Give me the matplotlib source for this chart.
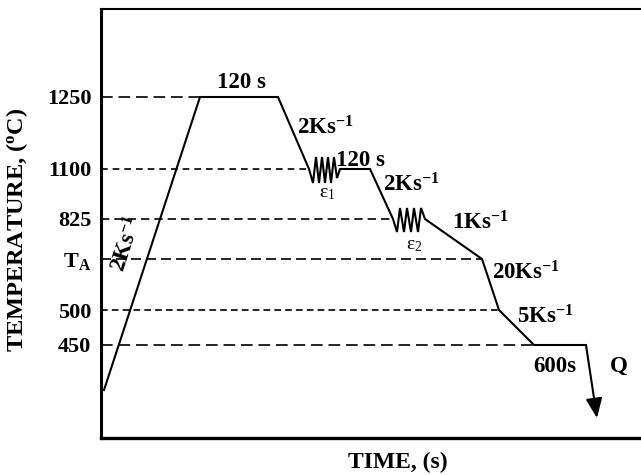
import matplotlib.pyplot as plt

plt.rcParams['font.family'] = ['Liberation Serif', 'DejaVu Serif']
plt.rcParams['font.weight'] = 'bold'
plt.rcParams['mathtext.fontset'] = 'custom'
plt.rcParams['mathtext.rm'] = 'Liberation Serif:bold'
plt.rcParams['mathtext.bf'] = 'Liberation Serif:bold'
plt.rcParams['mathtext.it'] = 'Liberation Serif:italic:bold'

# schematic levels (vertical position in the diagram) and their labels
level_pos = [341, 269, 219, 179, 128, 93]
level_lbl = ['1250', '1100', '825', r'T$_{\mathregular{A}}$', '500', '450']
level_end = [99, 208, 292, 381, 398, 433]   # where each dashed line meets the profile
level_dash = [(7, 3.5), (4, 3), (5, 3), (6, 3), (4, 2.5), (7, 3.5)]

# thermal profile (schematic time, level)
prof_t = [3, 99, 177, 208, 212, 215, 218, 221, 224, 227, 230, 233, 236, 239, 269, 292,
          296, 299, 303, 306, 310, 313, 317, 320, 324, 381, 398, 433, 485]
prof_y = [48, 341, 341, 269, 255, 281, 255, 281, 255, 281, 255, 281, 260, 269, 269, 219,
          206, 230, 206, 230, 206, 230, 206, 230, 219, 179, 128, 93, 93]
quench_end = (496, 20)

fig = plt.figure(figsize=(6.41, 4.75), dpi=100)
ax = fig.add_axes([101/641, 37/475, 540/641, 429/475])
ax.set_xlim(0, 540)
ax.set_ylim(0, 429)

for y, xe, d in zip(level_pos, level_end, level_dash):
    ax.plot([0, xe], [y, y], color='black', lw=1.2, linestyle=(0, d))

ax.plot(prof_t, prof_y, color='black', lw=1.5, solid_joinstyle='miter')
ax.annotate('', xy=quench_end, xytext=(prof_t[-1], prof_y[-1]),
            arrowprops=dict(arrowstyle='-|>,head_width=0.5,head_length=1.2',
                            color='black', lw=1.5, shrinkA=0, shrinkB=0))

fs = 16.5
rate = r'Ks$^{\mathbf{-1}}$'
ax.text(140, 356, '120 s', fontsize=fs, ha='center', va='center')
ax.text(196, 310, '2' + rate, fontsize=fs, ha='left', va='center')
ax.text(226, 245, r'ε$_{\mathregular{1}}$', fontsize=14, fontweight='normal', ha='center', va='center')
ax.text(259, 277, '120 s', fontsize=fs, ha='center', va='center')
ax.text(282, 253, '2' + rate, fontsize=fs, ha='left', va='center')
ax.text(313, 193, r'ε$_{\mathregular{2}}$', fontsize=14, fontweight='normal', ha='center', va='center')
ax.text(351, 215, '1' + rate, fontsize=fs, ha='left', va='center')
ax.text(391, 165, '20' + rate, fontsize=fs, ha='left', va='center')
ax.text(416, 121, '5' + rate, fontsize=fs, ha='left', va='center')
ax.text(432, 71, '600s', fontsize=fs, ha='left', va='center')
ax.text(518, 72, 'Q', fontsize=fs, ha='center', va='center')
ax.text(26, 194, '2' + rate, fontsize=fs, ha='center', va='center', rotation=72)

ax.set_yticks(level_pos)
ax.set_yticklabels(level_lbl, fontsize=16, fontweight='bold')
ax.set_xticks([])
ax.tick_params(axis='y', length=0, pad=7)

ax.spines['right'].set_visible(False)
ax.spines['left'].set_linewidth(2.2)
ax.spines['bottom'].set_linewidth(2.4)
ax.spines['top'].set_linewidth(1.5)

fig.text(17/641, 1 - 230/475, r'TEMPERATURE, ($^{\mathbf{o}}$C)', fontsize=17.5,
         rotation=90, ha='center', va='center')
fig.text(398/641, 1 - 462/475, 'TIME, (s)', fontsize=17, ha='center', va='center')

fig.savefig('out.png', dpi=100)
